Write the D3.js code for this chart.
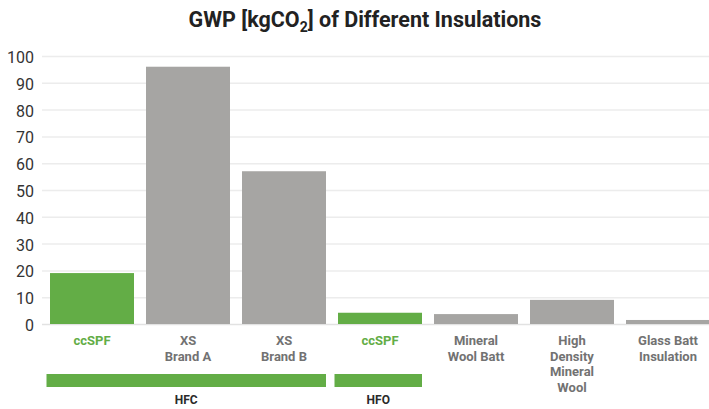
<!DOCTYPE html>
<html>
  <head>
    <meta charset="utf-8">
    <title>GWP of Different Insulations</title>
    <style>
      body { margin: 0; background: #fff; }
      #chart { width: 709px; height: 409px; overflow: hidden; }
      text { font-family: Roboto, sans-serif; }
    </style>
  </head>
  <body>
    <div id="chart"></div>
    <script src="https://cdn.jsdelivr.net/npm/d3@7"></script>
    <script>
      (function(d3) {
        'use strict';

        // data
        var categories = ['ccSPF', 'XS\nBrand A', 'XS\nBrand B', 'ccSPF2', 'Mineral\nWool Batt', 'High\nDensity\nMineral\nWool', 'Glass Batt\nInsulation'];
        var labels = ['ccSPF', 'XS\nBrand A', 'XS\nBrand B', 'ccSPF', 'Mineral\nWool Batt', 'High\nDensity\nMineral\nWool', 'Glass Batt\nInsulation'];
        var values = [19, 96, 57, 4.2, 3.7, 9, 1.5];
        var highlight = [true, false, false, true, false, false, false];
        var groups = [
          { name: 'HFC', from: 'ccSPF', to: 'XS\nBrand B' },
          { name: 'HFO', from: 'ccSPF2', to: 'ccSPF2' }
        ];
        var yTicks = [0, 10, 20, 30, 40, 50, 60, 70, 80, 90, 100];

        var width = 709;
        var height = 409;
        var green = '#63ad46';
        var grey = '#a6a5a3';

        var svg = d3.select('#chart')
          .append('svg')
          .attr('width', width)
          .attr('height', height);

        var x = d3.scaleBand()
          .domain(categories)
          .range([44, 716])
          .paddingInner(0.125)
          .paddingOuter(0.0625);

        var y = d3.scaleLinear()
          .domain([0, 100])
          .range([324, 56]);

        // title
        var title = svg.append('text')
          .attr('x', 365)
          .attr('y', 27)
          .attr('text-anchor', 'middle')
          .style('font-size', '21.5px')
          .style('font-weight', 'bold')
          .style('fill', '#222');
        title.append('tspan').text('GWP [kgCO');
        title.append('tspan').attr('dy', 5).style('font-size', '14px').text('2');
        title.append('tspan').attr('dy', -5).text('] of Different Insulations');

        // gridlines + y labels
        var yAxis = svg.append('g')
          .attr('transform', 'translate(42,0)')
          .call(d3.axisLeft(y).tickValues(yTicks).tickSize(-(width - 42)).tickPadding(8));
        yAxis.select('.domain').remove();
        yAxis.selectAll('.tick line')
          .attr('stroke', function(d) { return d === 0 ? '#e2e2e2' : '#ececec'; })
          .attr('stroke-width', 1.5);
        yAxis.selectAll('.tick text')
          .attr('dy', '0.65em')
          .attr('y', -4)
          .style('font-family', 'Roboto, sans-serif')
          .style('font-size', '16px')
          .style('fill', '#333');

        // bars
        svg.selectAll('.bar')
          .data(categories)
          .enter()
          .append('rect')
          .attr('class', 'bar')
          .attr('x', function(d) { return x(d); })
          .attr('width', x.bandwidth())
          .attr('y', function(d, i) { return y(values[i]); })
          .attr('height', function(d, i) { return y(0) - y(values[i]); })
          .attr('fill', function(d, i) { return highlight[i] ? green : grey; });

        // category labels
        var catLabel = svg.selectAll('.cat')
          .data(categories)
          .enter()
          .append('text')
          .attr('class', 'cat')
          .attr('text-anchor', 'middle')
          .attr('transform', function(d) {
            return 'translate(' + (x(d) + x.bandwidth() / 2) + ',345)';
          })
          .style('font-size', '13px')
          .style('font-weight', 'bold')
          .style('fill', function(d, i) { return highlight[i] ? green : '#727272'; });
        catLabel.each(function(d, i) {
          var lines = labels[i].split('\n');
          var t = d3.select(this);
          lines.forEach(function(line, j) {
            t.append('tspan')
              .attr('x', 0)
              .attr('dy', j === 0 ? 0 : 15.5)
              .text(line);
          });
        });

        // group brackets
        var grp = svg.selectAll('.group')
          .data(groups)
          .enter()
          .append('g')
          .attr('class', 'group');
        grp.append('rect')
          .attr('x', function(d) { return x(d.from) - 3.5; })
          .attr('y', 374)
          .attr('width', function(d) { return x(d.to) + x.bandwidth() - x(d.from) + 3.5; })
          .attr('height', 13)
          .attr('fill', green);
        grp.append('text')
          .attr('x', function(d) { return (x(d.from) - 3.5 + x(d.to) + x.bandwidth()) / 2; })
          .attr('y', 404)
          .attr('text-anchor', 'middle')
          .style('font-size', '12px')
          .style('font-weight', 'bold')
          .style('fill', '#2a2a2a')
          .text(function(d) { return d.name; });

      })(window.d3);
    </script>
  </body>
</html>
